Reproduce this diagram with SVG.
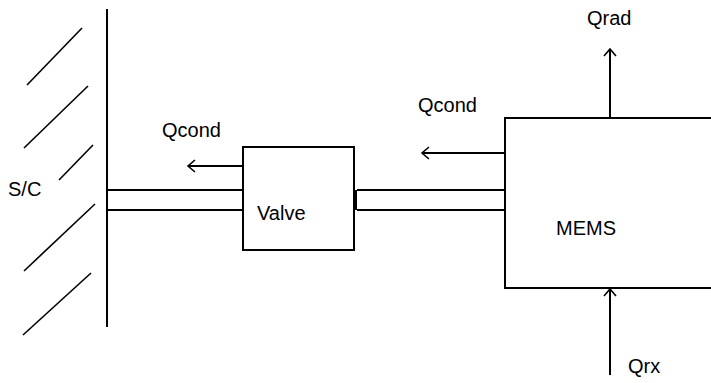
<svg xmlns="http://www.w3.org/2000/svg" width="711" height="383" viewBox="0 0 711 383">
<style>
.ln{stroke:#000;stroke-width:2;fill:none}
.hl{stroke:#000;stroke-width:1.6;fill:none}
.box{stroke:#000;stroke-width:2;fill:#fff}
.t{font-family:"Liberation Sans",Arial,sans-serif;font-size:20px;fill:#000}
</style>
<defs>
<marker id="ah" viewBox="0 0 10 14" refX="8" refY="7" markerWidth="10" markerHeight="14" markerUnits="userSpaceOnUse" orient="auto">
<path d="M1,1 L8,7 L1,13" stroke="#000" stroke-width="1.6" fill="none"/>
</marker>
</defs>
<rect width="711" height="383" fill="#fff"/>
<g id="wall">
<line class="ln" x1="107" y1="9" x2="107" y2="327"/>
<line class="hl" x1="27" y1="85" x2="82" y2="28"/>
<line class="hl" x1="24" y1="148" x2="88" y2="86"/>
<line class="hl" x1="59" y1="180" x2="93" y2="145"/>
<line class="hl" x1="24" y1="271" x2="95" y2="204"/>
<line class="hl" x1="23" y1="335" x2="91" y2="273"/>
<text class="t" x="8" y="196">S/C</text>
</g>
<g id="valve">
<rect class="box" x="243" y="147" width="111" height="103"/>
<rect x="353" y="190" width="4" height="20" fill="#000"/>
<text class="t" x="257" y="220">Valve</text>
</g>
<g id="mems">
<rect class="box" x="505" y="118" width="220" height="170"/>
<text class="t" x="556" y="235">MEMS</text>
</g>
<g id="connectors">
<line class="ln" x1="107" y1="190" x2="243" y2="190"/>
<line class="ln" x1="107" y1="210" x2="243" y2="210"/>
<line class="ln" x1="357" y1="190" x2="505" y2="190"/>
<line class="ln" x1="357" y1="210" x2="505" y2="210"/>
<line class="ln" x1="243" y1="166" x2="188" y2="166" marker-end="url(#ah)"/>
<line class="ln" x1="505" y1="153" x2="422" y2="153" marker-end="url(#ah)"/>
<line class="ln" x1="610" y1="118" x2="610" y2="49" marker-end="url(#ah)"/>
<line class="ln" x1="610" y1="375" x2="610" y2="289" marker-end="url(#ah)"/>
<text class="t" x="162" y="137">Qcond</text>
<text class="t" x="418" y="112">Qcond</text>
<text class="t" x="587" y="25">Qrad</text>
<text class="t" x="628" y="373">Qrx</text>
</g>
</svg>
